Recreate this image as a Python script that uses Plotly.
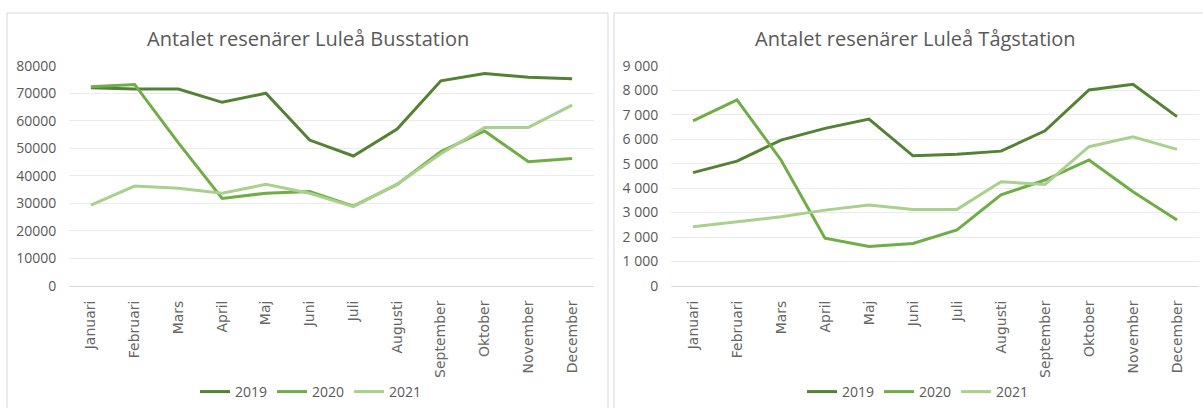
import plotly.graph_objects as go

months = ["Januari", "Februari", "Mars", "April", "Maj", "Juni", "Juli",
          "Augusti", "September", "Oktober", "November", "December"]
years = ["2019", "2020", "2021"]

bus_2019 = [72000, 71500, 71500, 66700, 70000, 53000, 47200, 57000, 74500, 77200, 75800, 75300]
bus_2020 = [72400, 73200, 52000, 31800, 33700, 34300, 29000, 36900, 48800, 56300, 45100, 46300]
bus_2021 = [29400, 36300, 35500, 33700, 36900, 33700, 28800, 37000, 48000, 57600, 57600, 65700]

tag_2019 = [4630, 5100, 5960, 6440, 6820, 5320, 5380, 5510, 6340, 8010, 8240, 6920]
tag_2020 = [6750, 7600, 5150, 1950, 1610, 1740, 2290, 3720, 4330, 5150, 3850, 2700]
tag_2021 = [2420, 2630, 2830, 3100, 3310, 3130, 3130, 4260, 4150, 5690, 6100, 5580]

bus_ticks = [0, 10000, 20000, 30000, 40000, 50000, 60000, 70000, 80000]
tag_ticks = [0, 1000, 2000, 3000, 4000, 5000, 6000, 7000, 8000, 9000]

colors = ["#548235", "#70AD47", "#A9D18E"]
FONT = "Open Sans"
MFONT = "DejaVu Sans"
TXT = "#595959"
W, H = 1203, 408

fig = go.Figure()
for name, vals, c in zip(years, [bus_2019, bus_2020, bus_2021], colors):
    fig.add_trace(go.Scatter(x=months, y=vals, name=name, mode="lines",
                             line=dict(color=c, width=3), xaxis="x", yaxis="y",
                             legend="legend"))
for name, vals, c in zip(years, [tag_2019, tag_2020, tag_2021], colors):
    fig.add_trace(go.Scatter(x=months, y=vals, name=name, mode="lines",
                             line=dict(color=c, width=3), xaxis="x2", yaxis="y2",
                             legend="legend2"))

def px_x(p):
    return p / W

def px_y(p):
    return (H - p) / H

ydom = [px_y(286), px_y(65.7)]
axis_common = dict(showgrid=False, showline=True, linecolor="#D9D9D9", linewidth=1,
                   ticks="outside", ticklen=8, tickcolor="rgba(0,0,0,0)",
                   tickangle=-90, tickfont=dict(family=MFONT, size=14, color="#666666"),
                   range=[-0.5, 11.5], automargin=False)
yaxis_common = dict(showgrid=True, gridcolor="#EBEBEB", gridwidth=1, zeroline=False,
                    showline=False, ticks="outside", ticklen=9, tickcolor="rgba(0,0,0,0)",
                    tickfont=dict(family=FONT, size=14, color=TXT),
                    automargin=False)

fig.update_layout(
    width=W, height=H,
    margin=dict(l=0, r=0, t=0, b=0),
    paper_bgcolor="white", plot_bgcolor="white",
    separators=", ",
    xaxis=dict(domain=[px_x(69), px_x(594)], anchor="y", **axis_common),
    yaxis=dict(domain=ydom, anchor="x", range=[0, 80000], tickvals=bus_ticks,
               tickformat="d", **yaxis_common),
    xaxis2=dict(domain=[px_x(671), px_x(1199)], anchor="y2", **axis_common),
    yaxis2=dict(domain=ydom, anchor="x2", range=[0, 9000], tickvals=tag_ticks,
                tickformat=",d", **yaxis_common),
    legend=dict(orientation="h", x=px_x(311), xanchor="center", y=px_y(392), yanchor="middle",
                font=dict(family=FONT, size=14, color=TXT), itemwidth=30,
                bgcolor="rgba(0,0,0,0)"),
    legend2=dict(orientation="h", x=px_x(918), xanchor="center", y=px_y(392), yanchor="middle",
                 font=dict(family=FONT, size=14, color=TXT), itemwidth=30,
                 bgcolor="rgba(0,0,0,0)"),
    annotations=[
        dict(text="Antalet resenärer Luleå Busstation", x=px_x(308), y=px_y(38),
             xref="paper", yref="paper", showarrow=False, xanchor="center", yanchor="middle",
             font=dict(family=FONT, size=20, color=TXT)),
        dict(text="Antalet resenärer Luleå Tågstation", x=px_x(915), y=px_y(38),
             xref="paper", yref="paper", showarrow=False, xanchor="center", yanchor="middle",
             font=dict(family=FONT, size=20, color=TXT)),
    ],
    shapes=[
        dict(type="rect", xref="paper", yref="paper", x0=px_x(7), x1=px_x(608),
             y0=px_y(420), y1=px_y(13), line=dict(color="#D9D9D9", width=1), layer="below"),
        dict(type="rect", xref="paper", yref="paper", x0=px_x(614), x1=px_x(1215),
             y0=px_y(420), y1=px_y(13), line=dict(color="#D9D9D9", width=1), layer="below"),
    ],
)

fig.write_html("out.html")
